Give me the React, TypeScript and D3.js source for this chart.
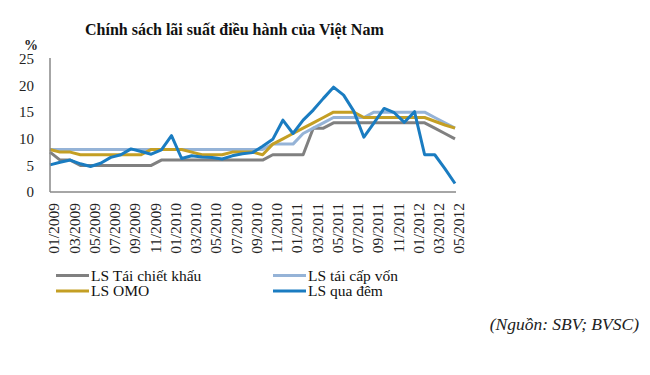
import React from "react";
import * as d3 from "d3";

const months = [
  "01/2009","02/2009","03/2009","04/2009","05/2009","06/2009","07/2009","08/2009","09/2009","10/2009","11/2009","12/2009",
  "01/2010","02/2010","03/2010","04/2010","05/2010","06/2010","07/2010","08/2010","09/2010","10/2010","11/2010","12/2010",
  "01/2011","02/2011","03/2011","04/2011","05/2011","06/2011","07/2011","08/2011","09/2011","10/2011","11/2011","12/2011",
  "01/2012","02/2012","03/2012","04/2012","05/2012",
];

const tickLabels = [
  "01/2009","03/2009","05/2009","07/2009","09/2009","11/2009",
  "01/2010","03/2010","05/2010","07/2010","09/2010","11/2010",
  "01/2011","03/2011","05/2011","07/2011","09/2011","11/2011",
  "01/2012","03/2012","05/2012",
];

const yTicks = [0, 5, 10, 15, 20, 25];

// LS Tái chiết khấu
const discount = [
  7.5, 6, 6, 5, 5, 5, 5, 5, 5, 5, 5, 6,
  6, 6, 6, 6, 6, 6, 6, 6, 6, 6, 7, 7,
  7, 7, 12, 12, 13, 13, 13, 13, 13, 13, 13, 13,
  13, 13, 12, 11, 10,
];

// LS tái cấp vốn
const refinance = [
  8, 8, 8, 8, 8, 8, 8, 8, 8, 8, 8, 8,
  8, 8, 8, 8, 8, 8, 8, 8, 8, 8, 9, 9,
  9, 11, 12, 13, 14, 14, 14, 14, 15, 15, 15, 15,
  15, 15, 14, 13, 12,
];

// LS OMO
const omo = [
  8, 7.5, 7.5, 7, 7, 7, 7, 7, 7, 7, 8, 8,
  8, 8, 7.5, 7, 7, 7, 7.5, 7.5, 7.5, 7, 9, 10,
  11, 12, 13, 14, 15, 15, 15, 14, 14, 14, 14, 14,
  14, 14, 13.3, 12.6, 12,
];

// LS qua đêm
const overnight = [
  5.1, 5.6, 6.0, 5.3, 4.8, 5.4, 6.5, 7.0, 8.1, 7.6, 7.1, 7.9,
  10.6, 6.3, 6.8, 6.6, 6.5, 6.2, 6.8, 7.2, 7.4, 8.6, 9.9, 13.5,
  11.0, 13.5, 15.4, 17.6, 19.7, 18.2, 15.2, 10.3, 13.0, 15.7, 14.9, 13.1,
  15.1, 7.0, 7.0, 4.4, 1.6,
];

const seriesNames = ["LS Tái chiết khấu", "LS tái cấp vốn", "LS OMO", "LS qua đêm"];
const seriesColors = ["#808080", "#95b3d7", "#c49f24", "#1a7cc1"];

const FONT = "'Liberation Serif', 'Times New Roman', serif";

export default function App() {
  const x = d3.scalePoint<string>().domain(months).range([50, 455]);
  const y = d3.scaleLinear().domain([0, 25]).range([192, 59]);
  const line = d3
    .line<number>()
    .x((_, i) => x(months[i]) as number)
    .y((d) => y(d));

  const series = [discount, refinance, omo, overnight];
  const drawOrder = [0, 1, 2, 3];

  const legend = [
    { i: 0, lx: 56, ly: 275.5 },
    { i: 1, lx: 273, ly: 275.5 },
    { i: 2, lx: 56, ly: 291 },
    { i: 3, lx: 273, ly: 291 },
  ];

  return (
    <svg
      width={650}
      height={375}
      style={{ position: "absolute", left: 0, top: 0, background: "#fff", fontFamily: FONT }}
    >
      <rect x={0} y={0} width={650} height={375} fill="#fff" />
      <text x={85} y={35} fontSize={16} fontWeight="bold" fill="#111">
        Chính sách lãi suất điều hành của Việt Nam
      </text>
      <text x={31} y={50} fontSize={14} fontWeight="bold" textAnchor="middle" fill="#222">
        %
      </text>

      {yTicks.map((t) => (
        <text key={t} x={34} y={y(t)} dy="0.35em" fontSize={15} textAnchor="end" fill="#222">
          {t}
        </text>
      ))}

      {tickLabels.map((m) => (
        <text
          key={m}
          transform={`translate(${(x(m) as number) + 4},203) rotate(-90)`}
          dy="0.35em"
          fontSize={15.5}
          textAnchor="end"
          fill="#222"
        >
          {m}
        </text>
      ))}

      {drawOrder.map((k) => (
        <path
          key={k}
          d={line(series[k]) || ""}
          fill="none"
          stroke={seriesColors[k]}
          strokeWidth={3}
          strokeLinejoin="round"
        />
      ))}

      <line x1={50} x2={50} y1={y(25) - 1} y2={y(0)} stroke="#888" strokeWidth={1.5} />
      <line x1={50} x2={456} y1={y(0)} y2={y(0)} stroke="#888" strokeWidth={1.5} />

      {legend.map((l) => (
        <g key={l.i}>
          <line x1={l.lx} x2={l.lx + 33} y1={l.ly} y2={l.ly} stroke={seriesColors[l.i]} strokeWidth={3} />
          <text x={l.lx + 35} y={l.ly + 5} fontSize={15.5} fill="#111">
            {seriesNames[l.i]}
          </text>
        </g>
      ))}

      <text x={639} y={330} fontSize={17.5} fontStyle="italic" textAnchor="end" fill="#222">
        (Nguồn: SBV; BVSC)
      </text>
    </svg>
  );
}
